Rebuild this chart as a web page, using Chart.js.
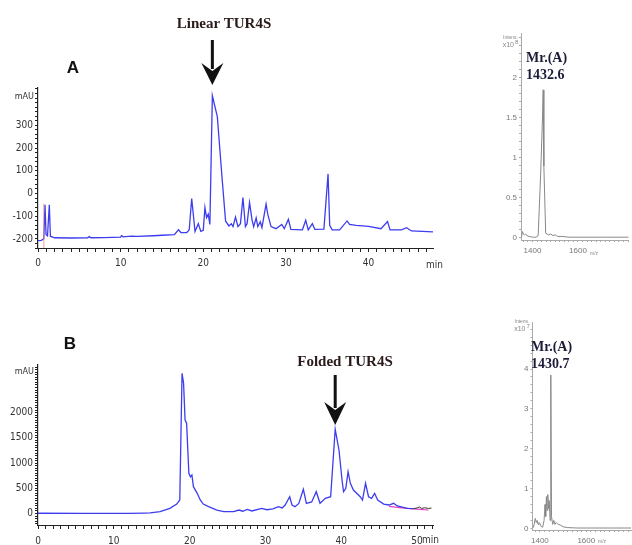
<!DOCTYPE html>
<html>
<head>
<meta charset="utf-8">
<script src="https://cdn.jsdelivr.net/npm/chart.js@4/dist/chart.umd.min.js"></script>
<style>
  body { margin: 0; background: #fff; }
  #wrap { position: relative; width: 632px; height: 545px; overflow: hidden; }
  #wrap canvas { position: absolute; left: 0; top: 0; }
</style>
</head>
<body>
<div id="wrap">
  <canvas id="hplcA" width="632" height="545"></canvas>
  <canvas id="hplcB" width="632" height="545"></canvas>
  <canvas id="msA" width="632" height="545"></canvas>
  <canvas id="msB" width="632" height="545"></canvas>
</div>
<script>
// ---- chromatogram A (linear), retention time in min / absorbance in mAU
const rtA = [0, 0.4, 0.7, 0.85, 0.97, 1.15, 1.37, 1.5, 2, 4, 6, 6.2, 6.4, 8, 10, 10.1, 10.3, 11.3, 12, 14, 15, 16.5,
  17, 17.3, 18, 18.3, 18.6, 19.0, 19.4, 19.7, 20.0, 20.2, 20.4, 20.6, 20.8, 21.1, 21.7, 22.3, 22.7, 23.1, 23.4, 23.6,
  23.9, 24.2, 24.5, 24.8, 25.1, 25.3, 25.6, 25.9, 26.1, 26.4, 26.6, 26.9, 27.1, 27.6, 27.8, 28.2, 28.8, 29.5, 29.8,
  30.3, 30.6, 32.0, 32.4, 32.7, 33.2, 33.5, 34.6, 35.1, 35.3, 35.6, 36.5, 37.4, 37.7, 38.5, 40, 41.5, 42.3, 42.6,
  44, 44.6, 45.2, 47.8];
const mauA = [-208, -206, -200, -50, -180, -186, -50, -188, -195, -196, -195, -190, -195, -194, -192, -186, -191, -188, -189, -186, -184, -181,
  -160, -172, -172, -160, -22, -167, -133, -167, -162, -62, -106, -91, -136, 430, 338, 56, -121, -143, -133, -146,
  -104, -146, -133, -18, -146, -133, -40, -116, -146, -107, -146, -125, -150, -47, -91, -146, -155, -136, -155,
  -114, -158, -160, -118, -160, -133, -158, -157, 86, -140, -160, -160, -121, -136, -140, -145, -155, -124, -160,
  -160, -151, -165, -169];

// ---- chromatogram B (folded)
const rtB = [0, 6, 12, 14, 14.8, 16.1, 17.4, 18.3, 18.7, 19.0, 19.2, 19.4, 19.6, 19.9, 20.1, 20.3, 20.5, 21.0, 21.4,
  21.8, 22.5, 23.6, 24.5, 25.8, 26.5, 27.0, 27.6, 28.2, 29.5, 30.2, 31, 31.7, 32.2, 32.6, 33.2, 33.5, 33.9, 34.4,
  35.0, 35.4, 36.1, 36.7, 37.2, 37.9, 38.6, 39.2, 39.7, 40.1, 40.3, 40.6, 40.9, 41.2, 41.6, 42.5, 42.8, 43.2, 43.6,
  44.0, 44.4, 44.8, 45.6, 46.3, 46.9, 47.4, 48.7, 49.5];
const mauB = [5, 3, 2, 8, 12, 36, 103, 188, 268, 2781, 2583, 1855, 1790, 797, 730, 763, 532, 400, 268,
  188, 135, 69, 36, 36, 69, 45, 80, 50, 103, 75, 90, 135, 110, 169, 333, 169, 136, 200,
  480, 202, 230, 433, 202, 301, 333, 1670, 1260, 665, 433, 500, 830, 600, 466, 333, 268, 600, 333,
  300, 400, 268, 188, 169, 202, 150, 103, 95];
const rtBTail = [49.5, 50.0, 50.3, 50.6, 51.0, 51.5, 51.9];
const mauBTail = [95, 110, 130, 100, 115, 100, 108];
const rtBBase = [46.3, 48, 50, 51.5];
const mauBBase = [140, 110, 85, 70];

// ---- mass spectra, m/z vs intensity
const mzA = [1352, 1356, 1360, 1365, 1370, 1375, 1385, 1400, 1415, 1425, 1436, 1444, 1447, 1450, 1458, 1470, 1480,
  1490, 1500, 1510, 1530, 1560, 1600, 1700, 1823];
const intA = [0.02, 0.08, 0.05, 0.04, 0.05, 0.03, 0.02, 0.01, 0.01, 0.03, 0.8, 1.5, 1.85, 0.9, 0.06, 0.04, 0.05,
  0.03, 0.04, 0.02, 0.02, 0.01, 0.01, 0.01, 0.01];   // x10^8
const mzB = [1372, 1380, 1384, 1388, 1392, 1396, 1400, 1405, 1412, 1418, 1422, 1425, 1428, 1431, 1434, 1437, 1440,
  1444, 1447, 1450, 1455, 1460, 1465, 1470, 1475, 1480, 1490, 1500, 1520, 1560, 1600, 1700, 1794];
const intB = [0.02, 0.25, 0.15, 0.2, 0.1, 0.15, 0.12, 0.05, 0.03, 0.2, 0.6, 0.3, 0.8, 0.45, 0.85, 0.5, 0.7,
  0.2, 3.85, 0.3, 0.1, 0.2, 0.1, 0.15, 0.12, 0.1, 0.08, 0.04, 0.02, 0.01, 0.01, 0.01, 0.01];   // x10^7

const peakLinear = 21.1;
const peakFolded = 39.2;

const pts = (xs, ys) => xs.map((x, i) => ({ x: x, y: ys[i] }));
const BLUE = "#3d3df0";
const NARROW = "'Liberation Sans Narrow', 'DejaVu Sans Condensed', 'Liberation Sans', Arial, sans-serif";
const AXIS_FONT = { family: NARROW, size: 10 };
const SERIF = "'Liberation Serif', 'Times New Roman', serif";

function text(ctx, str, x, y, font, color, align) {
  ctx.save();
  ctx.font = font;
  ctx.fillStyle = color || "#222";
  ctx.textAlign = align || "center";
  ctx.textBaseline = "middle";
  ctx.fillText(str, x, y);
  ctx.restore();
}

function arrow(ctx, x, y0, y1, headTop) {
  ctx.save();
  ctx.fillStyle = "#111";
  ctx.fillRect(x - 1.5, y0, 3, headTop - y0 + 2);
  ctx.beginPath();
  ctx.moveTo(x - 11, headTop - 4);
  ctx.lineTo(x, y1);
  ctx.lineTo(x + 11, headTop - 4);
  ctx.lineTo(x, headTop + 4);
  ctx.closePath();
  ctx.fill();
  ctx.restore();
}

function hplcOptions(pad, xMax, yMin, yMax, yStep, yLabelStep, yLabelMax, labelPad) {
  return {
    responsive: false,
    animation: false,
    devicePixelRatio: 1,
    layout: { padding: pad },
    plugins: { legend: { display: false }, tooltip: { enabled: false } },
    elements: { point: { radius: 0 }, line: { tension: 0 } },
    scales: {
      x: {
        type: "linear", min: 0, max: xMax,
        afterFit: s => { s.height = 20; },
        grid: { drawOnChartArea: false, tickLength: 4, color: "#222" },
        border: { color: "#222", width: 1 },
        ticks: {
          stepSize: 1, autoSkip: false, includeBounds: false, maxRotation: 0, padding: labelPad,
          color: "#333", font: AXIS_FONT,
          callback: v => (v % 10 === 0 ? String(v) : "")
        }
      },
      y: {
        type: "linear", min: yMin, max: yMax,
        afterFit: s => { s.width = 38; },
        grid: { drawOnChartArea: false, tickLength: 3, color: "#222" },
        border: { color: "#222", width: 1.2 },
        ticks: {
          stepSize: yStep, autoSkip: false, includeBounds: false, padding: 2,
          color: "#333", font: AXIS_FONT,
          callback: v => (v % yLabelStep === 0 && v <= yLabelMax ? String(v) : "")
        }
      }
    }
  };
}

/* -------------------------------
   CHROMATOGRAM A
--------------------------------*/
const labelsA = {
  id: "labelsA",
  afterDraw(chart) {
    const ctx = chart.ctx;
    const x = chart.scales.x.getPixelForValue(peakLinear);
    text(ctx, "Linear TUR4S", 224, 24, "bold 15px " + SERIF, "#2a1a1a");
    arrow(ctx, x, 40, 85, 67);
    text(ctx, "A", 73, 68, "bold 17px 'Liberation Sans', Arial, sans-serif", "#111");
    text(ctx, "mAU", 34, 97, "9px " + NARROW, "#333", "right");
    text(ctx, "min", 426, 265, "10px " + NARROW, "#333", "left");
  }
};

new Chart(document.getElementById("hplcA"), {
  type: "line",
  data: {
    datasets: [
      { data: pts([0.7, 0.7], [-240, -45]), borderColor: "rgba(240,120,120,0.7)", borderWidth: 1 },
      { data: pts(rtA, mauA), borderColor: BLUE, borderWidth: 1.3 }
    ]
  },
  options: hplcOptions({ left: 0, top: 88, right: 199, bottom: 277 }, 47.8, -240, 464, 20, 100, 300, 5),
  plugins: [labelsA]
});

/* -------------------------------
   CHROMATOGRAM B
--------------------------------*/
const labelsB = {
  id: "labelsB",
  afterDraw(chart) {
    const ctx = chart.ctx;
    const x = chart.scales.x.getPixelForValue(peakFolded);
    text(ctx, "B", 70, 344, "bold 17px 'Liberation Sans', Arial, sans-serif", "#111");
    text(ctx, "Folded TUR4S", 345, 362, "bold 15px " + SERIF, "#2a1a1a");
    arrow(ctx, x, 375, 425, 406);
    text(ctx, "mAU", 34, 372, "9px " + NARROW, "#333", "right");
    text(ctx, "min", 422, 540, "10px " + NARROW, "#333", "left");
  }
};

new Chart(document.getElementById("hplcB"), {
  type: "line",
  data: {
    datasets: [
      { data: pts(rtB, mauB), borderColor: BLUE, borderWidth: 1.3 },
      { data: pts(rtBTail, mauBTail), borderColor: "#333", borderWidth: 1 },
      { data: pts(rtBBase, mauBBase), borderColor: "#e040c0", borderWidth: 1.2 }
    ]
  },
  options: hplcOptions({ left: 0, top: 365, right: 199, bottom: 0 }, 52.1, -228, 2946, 50, 500, 2000, 6),
  plugins: [labelsB]
});

/* -------------------------------
   MASS SPECTRA
--------------------------------*/
const MS_FONT = { family: "'Liberation Sans', Arial, sans-serif", size: 8 };

function msOptions(pad, xMin, xMax, yMin, yMax, yStep, yLabelStep, yLabelMax) {
  return {
    responsive: false,
    animation: false,
    devicePixelRatio: 1,
    layout: { padding: pad },
    plugins: { legend: { display: false }, tooltip: { enabled: false } },
    elements: { point: { radius: 0 }, line: { tension: 0 } },
    scales: {
      x: {
        type: "linear", min: xMin, max: xMax,
        afterFit: s => { s.height = 15; },
        grid: { drawOnChartArea: false, tickLength: 2, color: "#aaa" },
        border: { color: "#aaa", width: 1, dash: [2, 2] },
        ticks: {
          stepSize: 20, autoSkip: false, includeBounds: false, maxRotation: 0, padding: 4,
          color: "#777", font: MS_FONT,
          callback: v => (v === 1400 || v === 1600 ? String(v) : "")
        }
      },
      y: {
        type: "linear", min: yMin, max: yMax,
        afterFit: s => { s.width = 31; },
        grid: { drawOnChartArea: false, tickLength: 2, color: "#aaa" },
        border: { color: "#aaa", width: 1, dash: [2, 2] },
        ticks: {
          stepSize: yStep, autoSkip: false, includeBounds: false, padding: 2,
          color: "#777", font: MS_FONT,
          callback: v => {
            const k = Math.round(v / yStep);
            return (k % yLabelStep === 0 && v >= 0 && v <= yLabelMax + 1e-6) ? String(Math.round(v * 10) / 10) : "";
          }
        }
      }
    }
  };
}

function msLabels(id, mr, mrX, mrY, exp, axisX, topY, mzX, mzY) {
  return {
    id: id,
    afterDraw(chart) {
      const ctx = chart.ctx;
      text(ctx, "Mr.(A)", mrX, mrY, "bold 14px " + SERIF, "#1c1c3a", "left");
      text(ctx, mr, mrX, mrY + 17, "bold 14px " + SERIF, "#1c1c3a", "left");
      text(ctx, "Intens.", axisX - 3, topY + 5, "5px " + MS_FONT.family, "#888", "right");
      text(ctx, "x10", axisX - 7, topY + 12, "7px " + MS_FONT.family, "#888", "right");
      text(ctx, exp, axisX - 6, topY + 9, "6px " + MS_FONT.family, "#888", "left");
      text(ctx, "m/z", mzX, mzY, "5px " + MS_FONT.family, "#888", "left");
    }
  };
}

new Chart(document.getElementById("msA"), {
  type: "line",
  data: { datasets: [{ data: pts(mzA, intA), borderColor: "#888", borderWidth: 1 }] },
  options: msOptions({ left: 490, top: 33, right: 0, bottom: 290 }, 1349.5, 1823, -0.025, 2.56, 0.1, 5, 2),
  plugins: [msLabels("labelsMsA", "1432.6", 526, 58, "8", 521, 33, 590, 254)]
});

new Chart(document.getElementById("msB"), {
  type: "line",
  data: { datasets: [{ data: pts(mzB, intB), borderColor: "#888", borderWidth: 1 }] },
  options: msOptions({ left: 501.5, top: 322, right: 0, bottom: 0 }, 1368, 1794, -0.04, 5.18, 0.2, 5, 4),
  plugins: [msLabels("labelsMsB", "1430.7", 531, 347, "7", 532.5, 317, 598, 542)]
});
</script>
</body>
</html>
